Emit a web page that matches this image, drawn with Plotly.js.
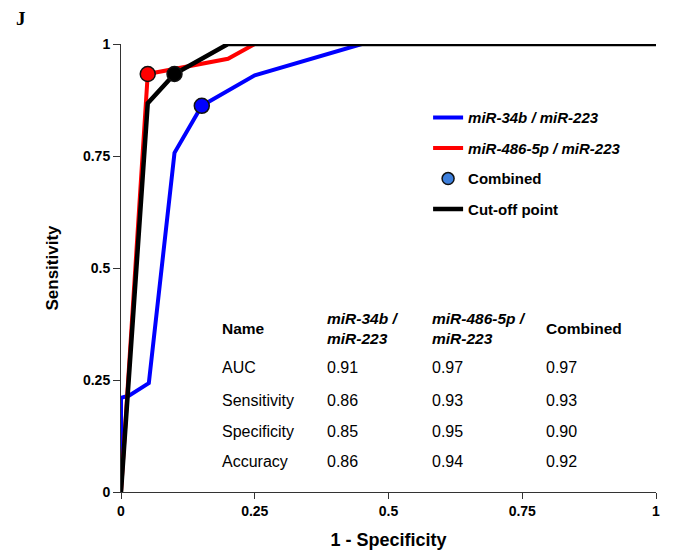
<!DOCTYPE html>
<html><head><meta charset="utf-8">
<script src="https://cdn.plot.ly/plotly-3.0.1.min.js"></script>
<style>body{margin:0;background:#fff}#chart{width:681px;height:556px}</style>
</head><body><div id="chart"></div>
<script>
// ROC curve data (1 - specificity, sensitivity)
const blueX = [0, 0, 0.015, 0.052, 0.10, 0.151, 0.25, 0.35, 0.45, 1];
const blueY = [0, 0.21, 0.215, 0.243, 0.757, 0.862, 0.93, 0.965, 1, 1];
const redX = [0, 0.05, 0.2, 0.25, 1];
const redY = [0, 0.933, 0.967, 1, 1];
const blackX = [0, 0.05, 0.1, 0.2, 1];
const blackY = [0, 0.868, 0.933, 1, 1];
// cut-off points
const cutBlue = [0.151, 0.862];
const cutRed = [0.05, 0.933];
const cutBlack = [0.1, 0.933];

const seriesNames = ['<b><i>miR-34b / miR-223</i></b>', '<b><i>miR-486-5p / miR-223</i></b>', '<b>Combined</b>', '<b>Cut-off point</b>'];

// table
const tableHeader = ['<b>Name</b>', '<b><i>miR-34b /<br>miR-223</i></b>', '<b><i>miR-486-5p /<br>miR-223</i></b>', '<b>Combined</b>'];
const rowNames = ['AUC', 'Sensitivity', 'Specificity', 'Accuracy'];
const col34b = ['0.91', '0.86', '0.85', '0.86'];
const col486 = ['0.97', '0.93', '0.95', '0.94'];
const colComb = ['0.97', '0.93', '0.90', '0.92'];

const tickVals = [0, 0.25, 0.5, 0.75, 1];
const tickText = ['0', '0.25', '0.5', '0.75', '1'];

const FONT = 'Liberation Sans, Arial, sans-serif';

const traces = [
  {x: blueX, y: blueY, mode: 'lines', line: {color: '#0000ff', width: 4}, name: seriesNames[0], legendgroup: 'a', cliponaxis: false},
  {x: redX, y: redY, mode: 'lines', line: {color: '#ff0000', width: 4}, name: seriesNames[1], legendgroup: 'b', cliponaxis: false},
  {x: [null], y: [null], mode: 'markers', marker: {color: '#3d7fdc', size: 12, line: {color: '#111', width: 1.5}}, name: seriesNames[2], legendgroup: 'c'},
  {x: blackX, y: blackY, mode: 'lines', line: {color: '#000000', width: 4.5}, name: seriesNames[3], legendgroup: 'd', cliponaxis: false},
  {x: [cutBlue[0]], y: [cutBlue[1]], mode: 'markers', marker: {color: '#0000ff', size: 15, line: {color: '#111', width: 1.5}}, showlegend: false, cliponaxis: false},
  {x: [cutRed[0]], y: [cutRed[1]], mode: 'markers', marker: {color: '#ff0000', size: 15, line: {color: '#111', width: 1.5}}, showlegend: false, cliponaxis: false},
  {x: [cutBlack[0]], y: [cutBlack[1]], mode: 'markers', marker: {color: '#000000', size: 15, line: {color: '#111', width: 1.5}}, showlegend: false, cliponaxis: false}
];

const colX = [0.185, 0.381, 0.577, 0.79];
const rowY = [0.277, 0.205, 0.136, 0.069];
const headerY = 0.366;
const annotations = [];
tableHeader.forEach((t, i) => annotations.push({x: colX[i], y: headerY, xref: 'x', yref: 'y', text: t, showarrow: false, xanchor: 'left', yanchor: 'middle', align: 'left', font: {family: FONT, size: 15.5, color: '#000'}}));
const cols = [rowNames, col34b, col486, colComb];
cols.forEach((col, i) => col.forEach((v, j) => annotations.push({x: colX[i], y: rowY[j], xref: 'x', yref: 'y', text: v, showarrow: false, xanchor: 'left', yanchor: 'middle', font: {family: FONT, size: 16, color: '#000'}})));
annotations.push({x: -0.2, y: 1.058, xref: 'paper', yref: 'paper', text: '<b>J</b>', showarrow: false, xanchor: 'left', yanchor: 'middle', font: {family: 'Liberation Serif, Times New Roman, serif', size: 19, color: '#000'}});

const layout = {
  width: 681, height: 556,
  margin: {l: 121, r: 25, t: 44, b: 64},
  paper_bgcolor: '#fff', plot_bgcolor: '#fff',
  showlegend: true,
  legend: {x: 0.574, y: 0.872, xanchor: 'left', yanchor: 'top', bgcolor: 'rgba(0,0,0,0)', font: {family: FONT, size: 15, color: '#000'}, itemwidth: 30, tracegroupgap: 8},
  xaxis: {range: [0, 1], tickvals: tickVals, ticktext: tickText, showgrid: false, zeroline: false, showline: true, linecolor: '#333', linewidth: 1, ticks: 'outside', ticklen: 6, tickcolor: '#333', tickfont: {family: FONT, size: 14, color: '#000', weight: 'bold'}, title: {text: '1 - Specificity', font: {family: FONT, size: 18, color: '#000', weight: 'bold'}, standoff: 15}},
  yaxis: {range: [0, 1], tickvals: tickVals, ticktext: tickText, showgrid: false, zeroline: false, showline: true, linecolor: '#333', linewidth: 1, ticks: 'outside', ticklen: 7, tickcolor: '#333', tickfont: {family: FONT, size: 14, color: '#000', weight: 'bold'}, title: {text: 'Sensitivity', font: {family: FONT, size: 17, color: '#000', weight: 'bold'}, standoff: 20}},
  annotations: annotations
};
Plotly.newPlot('chart', traces, layout, {displayModeBar: false, staticPlot: true});
</script></body></html>
